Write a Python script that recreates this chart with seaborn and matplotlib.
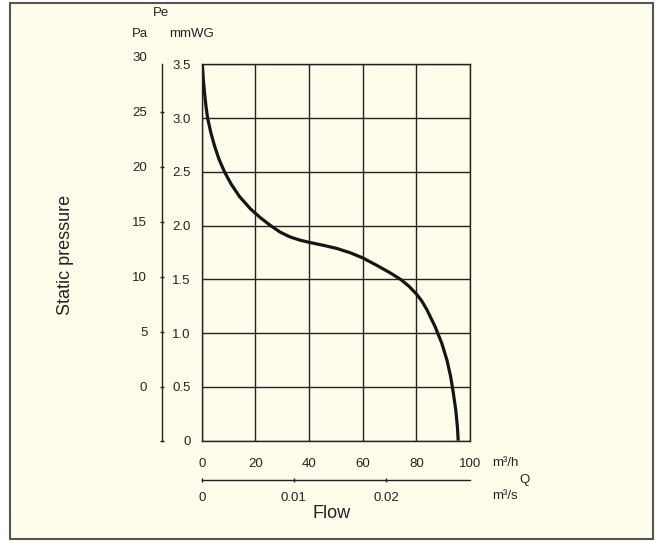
import numpy as np
import pandas as pd
import matplotlib
matplotlib.use("Agg")
import matplotlib.pyplot as plt
from matplotlib.patches import Rectangle
import seaborn as sns

# curve: flow (m3/h) vs static pressure (mmWG)
flow_m3h = [0.25, 0.6, 1.1, 1.6, 2.2, 3.4, 4.8, 6.4, 8.5, 11.0, 14.1, 18.2,
            21.8, 25.5, 29.2, 32.9, 36.6, 40.0, 45.3, 50.3, 55.3, 60.0, 65.3,
            70.3, 74.3, 77.3, 80.0, 82.0, 84.0, 87.0, 89.5, 91.4, 92.8, 93.8,
            94.7, 95.3, 95.6]
pressure_mmwg = [3.5, 3.36, 3.225, 3.11, 3.0, 2.865, 2.74, 2.62, 2.5, 2.385,
                 2.27, 2.155, 2.075, 2.003, 1.94, 1.895, 1.865, 1.845, 1.817,
                 1.788, 1.748, 1.70, 1.63, 1.56, 1.497, 1.435, 1.365, 1.30,
                 1.215, 1.06, 0.905, 0.75, 0.595, 0.44, 0.285, 0.13, 0.0]

x_ticks = [0, 20, 40, 60, 80, 100]
mmwg_ticks = [0, 0.5, 1.0, 1.5, 2.0, 2.5, 3.0, 3.5]
mmwg_labels = ["0", "0.5", "1.0", "1.5", "2.0", "2.5", "3.0", "3.5"]
pa_ticks = [0, 5, 10, 15, 20, 25]
pa_top = 30
m3s_ticks = [0, 0.01, 0.02]
m3s_labels = ["0", "0.01", "0.02"]

df = pd.DataFrame({"flow": flow_m3h, "pressure": pressure_mmwg})

sns.set_style("white")
plt.rcParams["font.family"] = ["Liberation Sans", "DejaVu Sans"]

W, H = 661, 541
ink = "#222222"
cream = "#FEFDEB"
fs = 9.5


def fx(px):
    return px / W


def fy(py):
    return 1 - py / H


fig = plt.figure(figsize=(W / 100, H / 100), dpi=100)
fig.patch.set_facecolor("white")
frame = Rectangle((fx(10), fy(539)), fx(653) - fx(10), fy(3) - fy(539),
                  transform=fig.transFigure, facecolor=cream,
                  edgecolor="#555555", linewidth=1.5, zorder=-5)
fig.add_artist(frame)

# main grid axes
left, right, top, bottom = 201.7, 470.0, 64.3, 440.7
ax = fig.add_axes([fx(left), fy(bottom), fx(right) - fx(left), fy(top) - fy(bottom)])
ax.set_facecolor("none")
sns.lineplot(data=df, x="flow", y="pressure", ax=ax, color="#151515",
             linewidth=2.3, sort=False, estimator=None,
             solid_joinstyle="round", solid_capstyle="butt")
ax.set_xlim(0, 100)
ax.set_ylim(0, 3.5)
ax.set_xticks(x_ticks)
ax.set_yticks(mmwg_ticks)
ax.set_yticklabels(mmwg_labels)
ax.grid(True, color=ink, linewidth=1.0)
for s in ax.spines.values():
    s.set_visible(True)
    s.set_color(ink)
    s.set_linewidth(1.0)
ax.tick_params(axis="x", length=0, pad=12.5, labelsize=fs, labelcolor=ink)
ax.tick_params(axis="y", length=0, pad=7.9, labelsize=fs, labelcolor=ink)
ax.set_xlabel("")
ax.set_ylabel("")

# Pa scale (separate line on the left)
pa_per_px = 5 / 55.0
pa_zero_py = 386.5
pa_lo = -(bottom - pa_zero_py) * pa_per_px
pa_hi = (pa_zero_py - top) * pa_per_px
ylim_hi = 30.3
top_pa = pa_zero_py - ylim_hi / pa_per_px
ax_pa = fig.add_axes([fx(161.7), fy(bottom), 0.0005, fy(top_pa) - fy(bottom)])
ax_pa.set_facecolor("none")
ax_pa.set_ylim(pa_lo, ylim_hi)
ax_pa.set_xticks([])
for k in ["top", "right", "bottom"]:
    ax_pa.spines[k].set_visible(False)
ax_pa.spines["left"].set_color(ink)
ax_pa.spines["left"].set_linewidth(1.0)
ax_pa.spines["left"].set_bounds(pa_lo, pa_hi)
ax_pa.set_yticks([pa_lo] + pa_ticks)
ax_pa.set_yticklabels([""] + [str(v) for v in pa_ticks])
ax_pa.set_yticks([pa_top], minor=True)
ax_pa.set_yticklabels([str(pa_top)], minor=True)
ax_pa.tick_params(axis="y", which="major", left=True, direction="inout",
                  length=3.5, width=1.0, color=ink, pad=8.6, labelsize=fs,
                  labelcolor=ink)
ax_pa.tick_params(axis="y", which="minor", left=True, length=0, pad=10.4,
                  labelsize=fs, labelcolor=ink)

# m3/s scale under the plot
ax_q = fig.add_axes([fx(left), fy(480), fx(right) - fx(left), 0.0005])
ax_q.set_facecolor("none")
ax_q.set_xlim(0, (right - 202) / 92 * 0.01)
ax_q.set_yticks([])
for k in ["top", "right", "left"]:
    ax_q.spines[k].set_visible(False)
ax_q.spines["bottom"].set_color(ink)
ax_q.spines["bottom"].set_linewidth(1.0)
ax_q.set_xticks(m3s_ticks)
ax_q.set_xticklabels(m3s_labels)
ax_q.tick_params(axis="x", bottom=True, direction="inout", length=2.7,
                 width=1.0, color=ink, pad=7.0, labelsize=fs, labelcolor=ink)

# labels
fig.text(fx(161), fy(13.3), "Pe", ha="center", va="center", fontsize=fs, color=ink)
fig.text(fx(148), fy(34), "Pa", ha="right", va="center", fontsize=fs, color=ink)
fig.text(fx(169), fy(34), "mmWG", ha="left", va="center", fontsize=fs, color=ink)
fig.text(fx(492), fy(463), "m³/h", ha="left", va="center", fontsize=fs, color=ink)
fig.text(fx(525), fy(480), "Q", ha="center", va="center", fontsize=fs, color=ink)
fig.text(fx(492), fy(496), "m³/s", ha="left", va="center", fontsize=fs, color=ink)
fig.text(fx(331.5), fy(513.7), "Flow", ha="center", va="center", fontsize=13, color=ink)
fig.text(fx(66), fy(254.7), "Static pressure", ha="center", va="center",
         rotation=90, fontsize=13, color=ink)

fig.savefig("out.png", dpi=100, facecolor=fig.get_facecolor())
